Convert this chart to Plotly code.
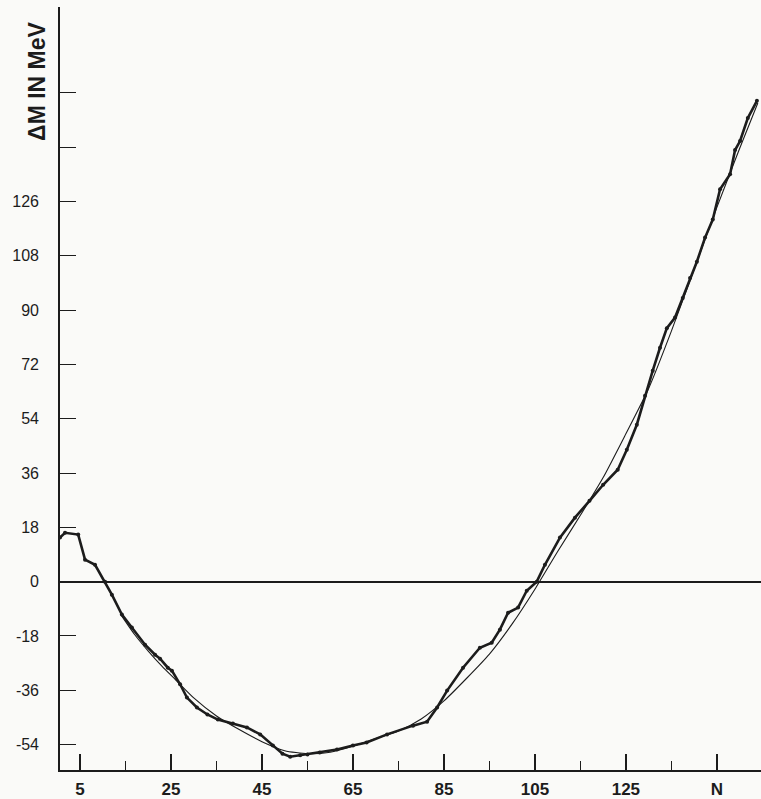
import plotly.graph_objects as go

# Experimental mass excess curve (thick, kinked line)
n_exp = [0.6, 1.7, 4.6, 6.1, 8.3, 10.5, 12.0, 14.2, 16.4, 19.3, 21.5, 22.6, 24.3,
         25.2, 27.0, 28.5, 30.7, 33.0, 35.3, 38.6, 41.7, 44.6, 47.4, 49.5, 51.2,
         53.4, 55.0, 57.7, 61.5, 65.0, 68.0, 72.5, 78.2, 81.3, 83.5, 85.7, 89.2,
         92.9, 95.5, 97.3, 99.1, 101.3, 103.2, 105.4, 107.2, 110.5, 113.8, 117.0,
         120.0, 123.2, 125.2, 127.4, 129.2, 130.9, 132.5, 134.0, 135.8, 137.5,
         139.1, 140.6, 142.4, 144.1, 145.7, 147.9, 149.0, 150.1, 151.8, 153.8]
dm_exp = [14.6, 16.2, 15.6, 7.3, 5.6, 0.0, -4.3, -10.9, -15.2, -20.9, -24.2, -25.5, -28.5,
          -29.5, -34.0, -38.4, -41.7, -44.0, -45.7, -47.0, -48.3, -50.6, -54.3, -57.0, -58.0,
          -57.5, -57.3, -56.6, -55.6, -54.3, -53.3, -50.6, -47.7, -46.4, -41.7, -36.1, -28.5,
          -21.9, -20.2, -15.9, -10.3, -8.6, -3.0, 0.0, 5.6, 14.6, 21.2, 26.8,
          32.1, 37.1, 43.7, 52.0, 61.6, 69.9, 77.5, 84.0, 87.5, 94.0,
          100.6, 106.0, 114.0, 120.0, 130.0, 135.0, 143.0, 146.0, 153.6, 159.3]

# Smooth fitted curve (thin line)
n_fit = [14, 17, 20, 23, 26, 30, 35, 40, 45, 50, 55, 60, 65, 70, 75, 80, 85, 90,
         95, 100, 105, 110, 115, 120, 125, 130, 135, 140, 145, 150, 154]
dm_fit = [-11.0, -17.5, -23.0, -28.0, -32.5, -38.5, -44.5, -49.0, -53.0, -56.0, -57.0,
          -56.5, -54.5, -52.0, -49.5, -45.5, -39.5, -32.0, -24.0, -14.0, -2.5, 10.0,
          22.0, 34.5, 49.0, 64.0, 83.0, 103.5, 124.0, 143.5, 158.6]

# Axis ticks
y_tickvals = [-54, -36, -18, 0, 18, 36, 54, 72, 90, 108, 126, 144, 162]
y_ticktext = ["-54", "-36", "-18", "0", "18", "36", "54", "72", "90", "108", "126", "", ""]
x_major = [5, 25, 45, 65, 85, 105, 125, 145]
x_major_text = ["5", "25", "45", "65", "85", "105", "125", "N"]
x_minor = [15, 35, 55, 75, 95, 115, 135]

ink = "#1c1c1c"
paper = "#fafaf8"

fig = go.Figure()
fig.add_trace(go.Scatter(x=n_fit, y=dm_fit, mode="lines",
                         line=dict(color=ink, width=1.1, shape="spline", smoothing=0.6),
                         hoverinfo="skip"))
fig.add_trace(go.Scatter(x=n_exp, y=dm_exp, mode="lines+markers",
                         line=dict(color=ink, width=2.6),
                         marker=dict(color=ink, size=4),
                         hoverinfo="skip"))

fig.update_layout(
    width=761, height=799,
    margin=dict(l=60, r=0, t=7, b=26),
    paper_bgcolor=paper, plot_bgcolor=paper,
    showlegend=False,
    font=dict(family="Liberation Sans", color=ink),
    xaxis=dict(
        range=[0.6, 154.7], showgrid=False, zeroline=False,
        showline=True, linecolor=ink, linewidth=2,
        tickmode="array", tickvals=x_major, ticktext=x_major_text,
        ticks="inside", ticklen=16, tickwidth=1.5, tickcolor=ink,
        tickfont=dict(size=17, family="Liberation Sans", color=ink, weight="bold"),
        ticklabelstandoff=3,
        minor=dict(tickmode="array", tickvals=x_minor, ticks="inside",
                   ticklen=9, tickwidth=1.3, tickcolor=ink, showgrid=False),
    ),
    yaxis=dict(
        range=[-62.4, 190.4], showgrid=False,
        zeroline=True, zerolinecolor=ink, zerolinewidth=1.6,
        showline=True, linecolor=ink, linewidth=1.6,
        tickmode="array", tickvals=y_tickvals, ticktext=y_ticktext,
        ticks="inside", ticklen=16, tickwidth=1.2, tickcolor=ink,
        tickfont=dict(size=16, family="Liberation Sans", color=ink),
        ticklabelstandoff=16,
    ),
)

fig.add_annotation(
    text="ΔM IN MeV", textangle=-90,
    xref="paper", yref="paper",
    x=-0.033, y=0.903, xanchor="center", yanchor="middle",
    showarrow=False,
    font=dict(size=23, family="Liberation Sans", color=ink, weight="bold"),
)

fig.write_html("out.html")
